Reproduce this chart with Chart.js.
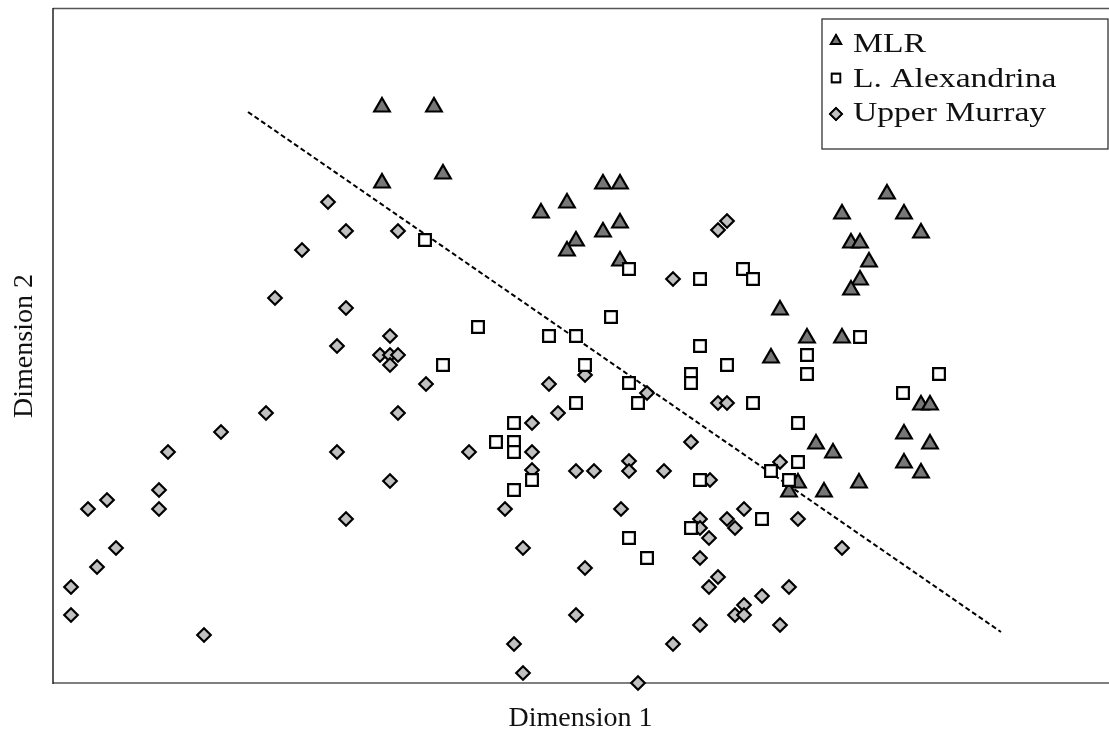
<!DOCTYPE html>
<html>
<head>
<meta charset="utf-8">
<title>Dimension 1 / Dimension 2</title>
<script src="https://cdn.jsdelivr.net/npm/chart.js@4.4.1/dist/chart.umd.min.js"></script>
<style>
    html, body { margin: 0; padding: 0; background: #fff; }
    #wrap { width: 1109px; height: 731px; }
</style>
</head>
<body>
<div id="wrap"><canvas id="ordChart" width="1109" height="731"></canvas></div>
<script>
// Series names (legend order)
const seriesNames = ['MLR', 'L. Alexandrina', 'Upper Murray'];
const axisTitles = ['Dimension 1', 'Dimension 2'];

// MLR (triangles) - [dim1, dim2]
const mlrPoints = [
    [329, 576], [381, 576], [329, 500], [390, 509], [550, 499], [567, 499],
    [514, 480], [488, 470], [567, 460], [550, 451], [523, 442], [514, 432],
    [567, 422], [834, 489], [789, 469], [851, 469], [868, 450], [798, 440],
    [807, 440], [816, 421], [807, 403], [798, 393], [727, 373], [754, 345],
    [789, 345], [718, 325], [868, 278], [877, 278], [851, 249], [877, 239],
    [763, 239], [780, 230], [851, 220], [868, 210], [806, 200], [771, 191],
    [745, 200], [736, 191]
];

// L. Alexandrina (squares)
const alexPoints = [
    [372, 443], [576, 414], [647, 404], [690, 414], [700, 404], [558, 366],
    [425, 356], [496, 347], [523, 347], [647, 337], [390, 318], [532, 318],
    [674, 318], [638, 309], [638, 300], [576, 300], [807, 346], [754, 328],
    [754, 309], [886, 309], [850, 290], [523, 280], [585, 280], [461, 260],
    [443, 241], [461, 241], [461, 231], [479, 203], [461, 193], [647, 203],
    [638, 155], [576, 145], [594, 125], [700, 280], [745, 260], [745, 221],
    [718, 212], [736, 203], [709, 164]
];

// Upper Murray (diamonds)
const murrayPoints = [
    [275, 481], [293, 452], [345, 452], [249, 433], [222, 385], [293, 375],
    [337, 347], [284, 337], [327, 328], [337, 328], [345, 328], [337, 318],
    [665, 453], [674, 462], [620, 404], [373, 299], [496, 299], [532, 308],
    [213, 270], [168, 251], [115, 231], [284, 231], [345, 270], [337, 202],
    [54, 183], [35, 174], [106, 193], [106, 174], [293, 164], [63, 135],
    [44, 116], [18, 96], [18, 68], [151, 48], [505, 270], [594, 290],
    [479, 260], [416, 231], [479, 231], [479, 213], [523, 212], [541, 212],
    [576, 222], [576, 212], [611, 212], [657, 203], [638, 241], [665, 280],
    [674, 280], [452, 174], [568, 174], [647, 164], [647, 155], [656, 145],
    [674, 164], [682, 155], [647, 125], [470, 135], [532, 115], [665, 106],
    [656, 96], [682, 68], [647, 58], [523, 68], [620, 39], [461, 39],
    [470, 10], [585, 0], [727, 221], [691, 174], [745, 164], [789, 135],
    [736, 96], [709, 87], [691, 78], [691, 68], [727, 58]
];

// dashed separating line (two ends)
const divider = [[195, 571], [948, 51]];

// axis ranges
const xRange = [0, 1055];
const yRange = [0, 674];

const toXY = arr => arr.map(p => ({ x: p[0], y: p[1] }));
const SERIF = '"Liberation Serif", "Times New Roman", serif';

// Frame, axis titles and boxed legend
const framePlugin = {
    id: 'framePlugin',
    beforeDatasetsDraw(chart) {
        const { ctx, chartArea: a } = chart;
        ctx.save();
        // top
        ctx.strokeStyle = '#555';
        ctx.lineWidth = 1.5;
        ctx.beginPath();
        ctx.moveTo(a.left, a.top - 0.5);
        ctx.lineTo(chart.width, a.top - 0.5);
        ctx.stroke();
        // bottom
        ctx.strokeStyle = '#808080';
        ctx.lineWidth = 2;
        ctx.beginPath();
        ctx.moveTo(a.left, a.bottom);
        ctx.lineTo(chart.width, a.bottom);
        ctx.stroke();
        // left
        ctx.strokeStyle = '#222';
        ctx.lineWidth = 1.5;
        ctx.beginPath();
        ctx.moveTo(a.left, a.top - 1);
        ctx.lineTo(a.left, a.bottom + 1);
        ctx.stroke();

        // axis titles
        ctx.fillStyle = '#111';
        ctx.font = '28px ' + SERIF;
        ctx.textAlign = 'center';
        ctx.textBaseline = 'alphabetic';
        ctx.fillText(axisTitles[0], (a.left + a.right) / 2, 726);
        ctx.translate(32, (a.top + a.bottom) / 2);
        ctx.rotate(-Math.PI / 2);
        ctx.fillText(axisTitles[1], 0, 0);
        ctx.restore();
    },
    afterDatasetsDraw(chart) {
        const { ctx } = chart;
        ctx.save();
        ctx.fillStyle = '#fff';
        ctx.fillRect(822, 19, 286, 130);
        ctx.strokeStyle = '#333';
        ctx.lineWidth = 1.3;
        ctx.strokeRect(822, 19, 286, 130);

        const markerY = [41, 78, 114];
        const textY = [52, 87, 121];
        seriesNames.forEach((name, i) => {
            const ds = chart.data.datasets[i];
            ctx.fillStyle = ds.backgroundColor;
            ctx.strokeStyle = ds.borderColor;
            ctx.lineWidth = 1.8;
            Chart.helpers.drawPoint(ctx, {
                pointStyle: ds.pointStyle,
                radius: 6,
                borderWidth: 1.8,
                rotation: 0
            }, 836, markerY[i]);
            ctx.fill();
            ctx.stroke();

            ctx.save();
            ctx.fillStyle = '#111';
            ctx.font = '28px ' + SERIF;
            ctx.textAlign = 'left';
            ctx.textBaseline = 'alphabetic';
            ctx.translate(853, textY[i]);
            ctx.scale(1.2, 1);
            ctx.fillText(name, 0, 0);
            ctx.restore();
        });
        ctx.restore();
    }
};

const ctx = document.getElementById('ordChart');
new Chart(ctx, {
    type: 'scatter',
    data: {
        datasets: [{
            label: seriesNames[0],
            data: toXY(mlrPoints),
            pointStyle: 'triangle',
            pointRadius: 9,
            borderWidth: 2.2,
            backgroundColor: '#777777',
            borderColor: '#000',
            order: 1,
            clip: false
        }, {
            label: seriesNames[1],
            data: toXY(alexPoints),
            pointStyle: 'rect',
            pointRadius: 8.3,
            borderWidth: 2.2,
            backgroundColor: '#fff',
            borderColor: '#000',
            order: 0,
            clip: false
        }, {
            label: seriesNames[2],
            data: toXY(murrayPoints),
            pointStyle: 'rectRot',
            pointRadius: 6.8,
            borderWidth: 2.2,
            backgroundColor: '#c0c0c0',
            borderColor: '#000',
            order: 2,
            clip: false
        }, {
            type: 'line',
            label: 'divider',
            data: toXY(divider),
            borderColor: '#000',
            borderWidth: 2,
            borderDash: [5, 3],
            pointRadius: 0,
            fill: false,
            order: 3
        }]
    },
    options: {
        responsive: false,
        animation: false,
        devicePixelRatio: 1,
        layout: {
            autoPadding: false,
            padding: { left: 53, right: 1, top: 9, bottom: 48 }
        },
        plugins: {
            legend: { display: false },
            tooltip: { enabled: false }
        },
        scales: {
            x: { type: 'linear', display: false, min: xRange[0], max: xRange[1] },
            y: { type: 'linear', display: false, min: yRange[0], max: yRange[1] }
        }
    },
    plugins: [framePlugin]
});
</script>
</body>
</html>
